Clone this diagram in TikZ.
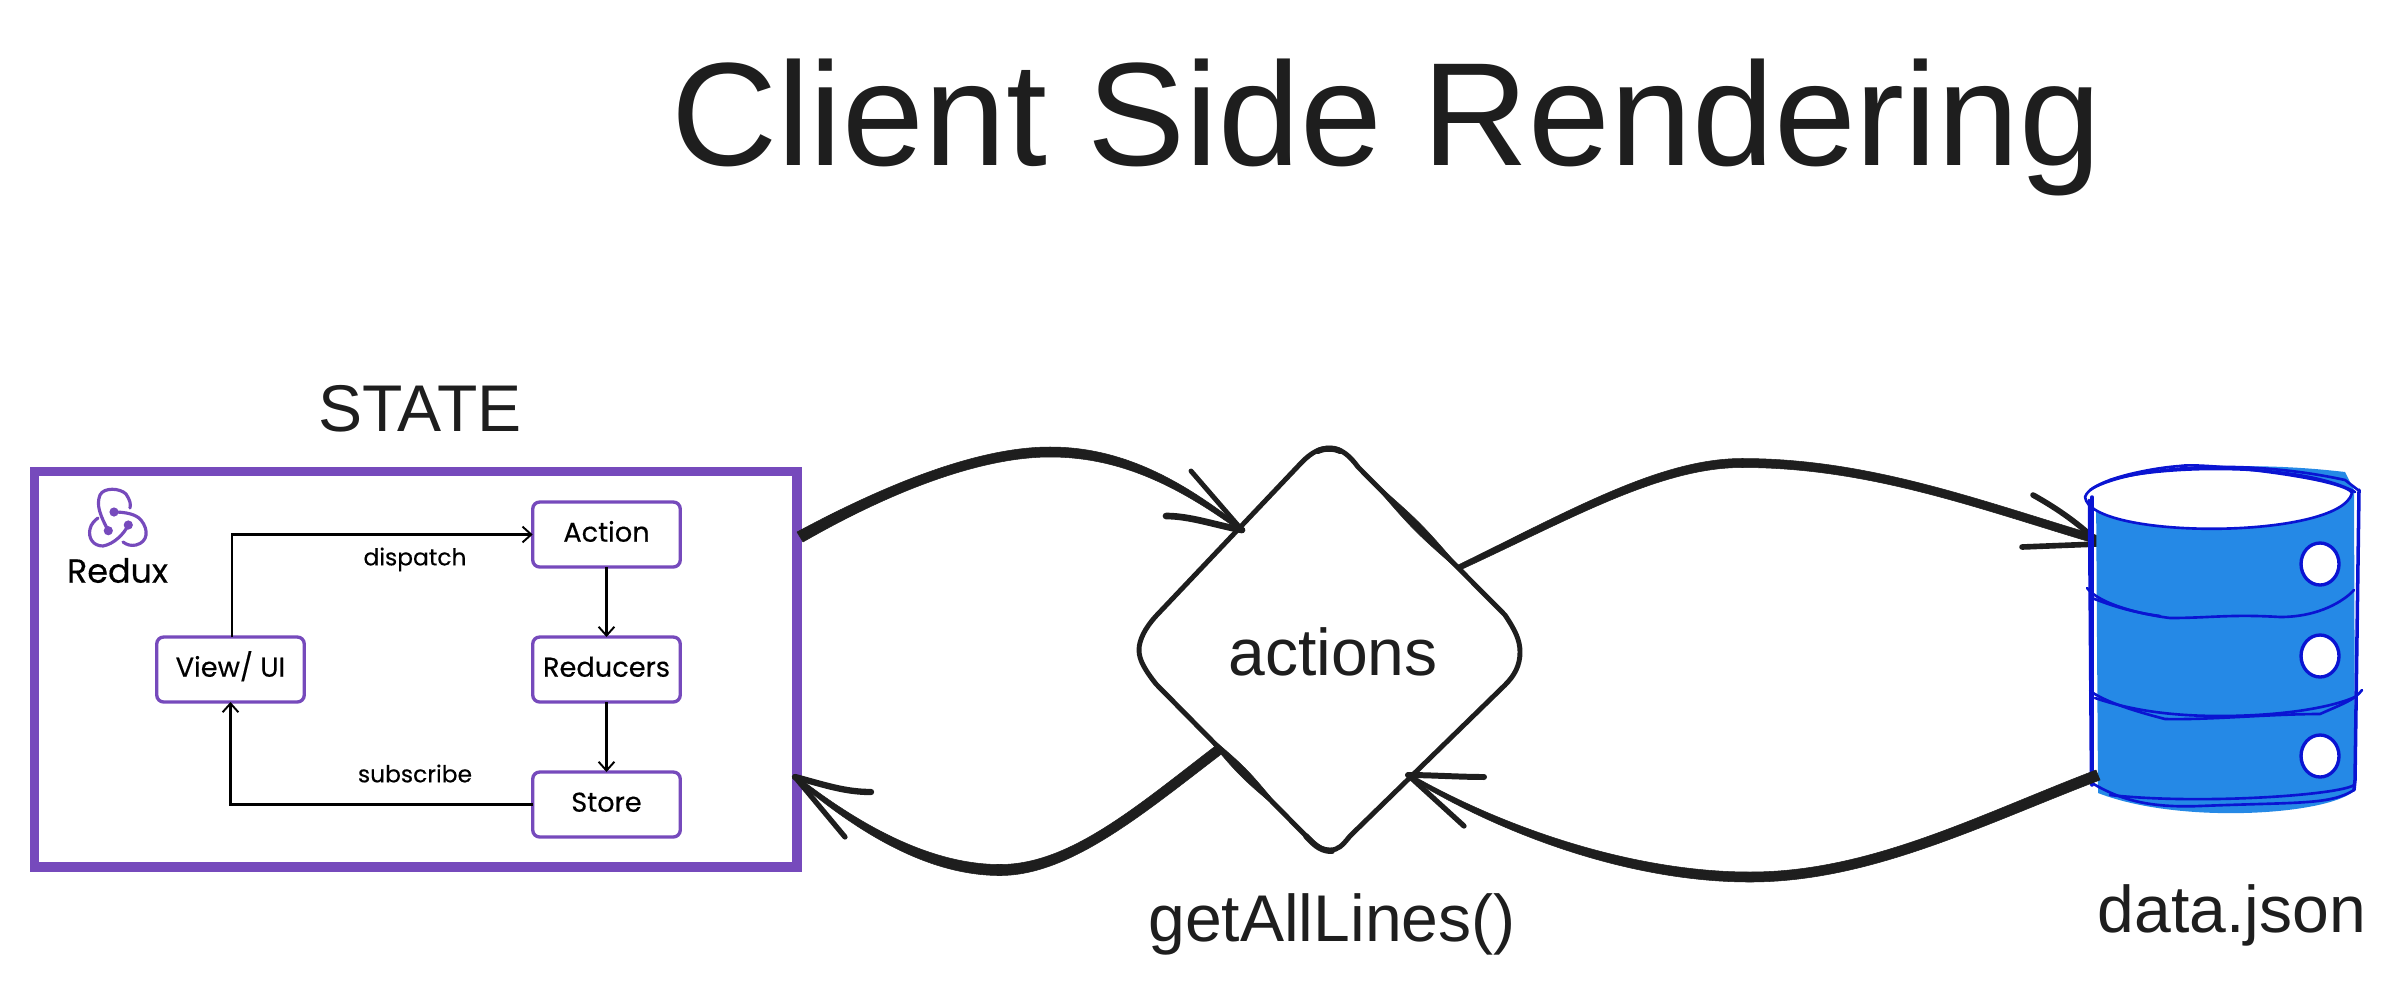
\documentclass[tikz,border=0pt]{standalone}
\usepackage{fontspec}
\setmainfont{Liberation Sans}
\newfontfamily\reduxfont[FakeBold=0.35]{Poppins}
\usetikzlibrary{arrows.meta}
\definecolor{ink}{HTML}{1E1E1E}
\definecolor{rx}{HTML}{764ABC}
\definecolor{dbfill}{HTML}{2589E6}
\definecolor{dbline}{HTML}{0A14D2}
\tikzset{
  every node/.style={inner sep=0pt,outer sep=0pt},
  big/.style={font=\fontsize{37.6}{41}\selectfont,text=ink,anchor=base},
  rxbox/.style={draw=rx,line width=1.9pt,rounded corners=4pt,fill=white,minimum width=84pt,minimum height=37pt,text height=10pt,text depth=1.8pt,font=\reduxfont\fontsize{15.5}{18}\selectfont,text=black},
  rxlab/.style={font=\reduxfont\fontsize{13.3}{15}\selectfont,text=black},
  rxarrow/.style={draw=black,line width=1.3pt,-{Straight Barb[length=5pt,width=9pt,line width=1.1pt]}},
  logo/.style={draw=rx,line width=1.8pt,line cap=round},
  skline/.style={draw=ink,line cap=round,line join=round},
  sktaper/.style={fill=ink,draw=ink,line width=0.3pt,line join=round},
  dbstroke/.style={draw=dbline,line width=1.5pt,line cap=round,line join=round},
}
\begin{document}
\begin{tikzpicture}[x=0.02cm,y=-0.02cm]
\useasboundingbox (0,0) rectangle (2396,981);
% title
\node[font=\fontsize{83.7}{90}\selectfont,text=ink,anchor=base west] (title) at (671,165) {Client Side Rendering};
\node[big] (statelabel) at (420,431) {STATE};
% frame
\draw[draw=rx,line width=5.4pt] (34.5,471.5) rectangle (797,867);
% logo
\fill[rx] (114,512) circle (4.6);
\fill[rx] (108.3,530.7) circle (4.6);
\fill[rx] (128.3,525) circle (4.6);
\draw[logo] (108.3,530.7) .. controls (100,515) and (96,505) .. (100,495) .. controls (104,487) and (120,488) .. (126,494) .. controls (130,500) and (131,504) .. (130,508);
\draw[logo] (114,512) .. controls (125,512) and (136,514) .. (141,520) .. controls (149,530) and (148,542) .. (136,545) .. controls (131,546) and (127,545) .. (123,542);
\draw[logo] (128.3,525) .. controls (124,534) and (114,544) .. (103,546) .. controls (93,546) and (88,538) .. (90,529) .. controls (91,524) and (95,520) .. (98,518);
\node[font=\reduxfont\fontsize{19}{20}\selectfont,text=black] (reduxname) at (117.5,570.5) {Redux};
% redux boxes
\node[rxbox] (action) at (606.5,534.5) {Action};
\node[rxbox] (reducers) at (606.5,669.5) {Reducers};
\node[rxbox] (store) at (606.5,804.5) {Store};
\node[rxbox] (view) at (230.5,669.5) {View/ UI};
\draw[rxarrow] (view.north) ++(1.5,0) |- (action.west);
\draw[rxarrow] (action) -- (reducers);
\draw[rxarrow] (reducers) -- (store);
\draw[rxarrow] (store.west) -| (view.south);
\node[rxlab] (dispatch) at (415,559.5) {dispatch};
\node[rxlab] (subscribe) at (415,773.5) {subscribe};
% diamond
\coordinate (dtl) at (1242,530);
\coordinate (dtr) at (1458,568);
\coordinate (dbl) at (1221,748);
\coordinate (dbr) at (1408,775);
\draw[skline,line width=2.8pt,fill=white]
  (1330,448) .. controls (1341,448) and (1350,456) .. (1358,467)
  -- (1505,615) .. controls (1515,630) and (1520,640) .. (1520,652)
  .. controls (1520,665) and (1515,675) .. (1505,685)
  -- (1350,836) .. controls (1342,846) and (1338,850) .. (1330,850)
  .. controls (1322,850) and (1316,846) .. (1308,838)
  -- (1156,684) .. controls (1145,670) and (1139,660) .. (1139,650)
  .. controls (1139,640) and (1145,628) .. (1156,616)
  -- (1302,462) .. controls (1312,452) and (1320,448) .. (1330,448) -- cycle;
\fill[sktaper] (1365,474) .. controls (1421.5,523) .. (1470,580) .. controls (1413.5,531) .. cycle;
\fill[sktaper] (1200,728.6) .. controls (1246.5,767.6) .. (1285,814.7) .. controls (1238.5,775.6) .. cycle;
\draw[skline,line width=3.4pt] (1306,836) .. controls (1316,847) and (1322,851) .. (1332,851);
\draw[skline,line width=3.4pt] (1318,451) .. controls (1324,448) and (1334,448) .. (1340,451);
\node[big] (actions) at (1333,675) {actions};
% connectors
\fill[sktaper] (797,532) .. controls (890,482) and (980,447) .. (1050,447) .. controls (1120,447) and (1180,478) .. (1244,529)
  -- (1240,531) .. controls (1178,486) and (1120,457) .. (1050,457) .. controls (980,457) and (890,492) .. (803,542) -- cycle;
\draw[skline,line width=2.8pt] (dtl) -- (1191,471);
\draw[skline,line width=3.8pt] (dtl) .. controls (1215,525) and (1190,516) .. (1166,516);
\fill[sktaper] (1457,565.5) .. controls (1569,511) and (1660,458.5) .. (1742,458.5) .. controls (1870,458.5) and (1981,501) .. (2099,536)
  -- (2097,544) .. controls (1979,509) and (1870,467.5) .. (1742,467.5) .. controls (1660,467.5) and (1571,519) .. (1459,570.5) -- cycle;
\draw[skline,line width=3.2pt] (2098,542) .. controls (2080,525) and (2060,510) .. (2033,495);
\draw[skline,line width=3.2pt] (2098,544) -- (2022,547);
\fill[sktaper] (1218,744) .. controls (1137,806) and (1070,864.5) .. (1000,864.5) .. controls (932,864.5) and (862,827) .. (796,775.5)
  -- (794,778.5) .. controls (858,833) and (928,875.5) .. (1000,875.5) .. controls (1070,875.5) and (1143,814) .. (1224,752) -- cycle;
\draw[skline,line width=3pt] (795,777) -- (845,837);
\draw[skline,line width=3.6pt] (795,777) .. controls (825,785) and (845,792) .. (871,792);
% database
\fill[dbfill] (2096,490) .. controls (2100,480) and (2200,455) .. (2345,472) -- (2354,490) -- (2355,790) .. controls (2330,815) and (2180,825) .. (2098,793) -- cycle;
\draw[dbstroke,fill=white] (2085,497) .. controls (2090,540) and (2340,540) .. (2352,493) .. controls (2345,478) and (2200,462) .. (2180,466) .. controls (2150,468) and (2090,480) .. (2085,497) -- cycle;
\draw[dbstroke] (2090,490) .. controls (2120,470) and (2230,455) .. (2345,480) -- (2358,490);
\draw[dbstroke] (2110,480) .. controls (2160,465) and (2300,462) .. (2355,492);
\draw[dbstroke,line width=2pt] (2092,497) -- (2092,785);
\draw[dbstroke] (2089,500) -- (2091,780);
\draw[dbstroke,line width=2pt] (2359,490) -- (2355,780) -- (2354,790);
\draw[dbstroke] (2354,790) .. controls (2330,805) and (2300,802) .. (2200,806) .. controls (2150,808) and (2120,800) .. (2092,783);
\draw[dbstroke] (2354,785) .. controls (2340,795) and (2200,805) .. (2110,795);
\draw[dbstroke] (2087,588) .. controls (2100,605) and (2145,615) .. (2170,618) .. controls (2210,618) and (2230,614) .. (2280,617) .. controls (2320,617) and (2345,600) .. (2354,590);
\draw[dbstroke] (2092,598) .. controls (2110,605) and (2130,612) .. (2160,616);
\draw[dbstroke] (2090,691) .. controls (2110,705) and (2150,715) .. (2165,719) .. controls (2210,720) and (2270,714) .. (2320,714) .. controls (2340,705) and (2355,700) .. (2362,690);
\draw[dbstroke] (2095,698) .. controls (2130,710) and (2170,716) .. (2220,716) .. controls (2280,716) and (2330,708) .. (2355,697);
\foreach \yy in {564,656,756}{
  \draw[dbstroke,line width=1.9pt,fill=white] (2320,\yy) ellipse (19 and 21);
}
\fill[sktaper] (2096,770) .. controls (1978,815) and (1870,872) .. (1750,872) .. controls (1632,872) and (1502,827) .. (1409,773.5)
  -- (1407,776.5) .. controls (1498,833) and (1628,882) .. (1750,882) .. controls (1870,882) and (1982,825) .. (2100,780) -- cycle;
\draw[skline,line width=3pt] (dbr) -- (1464,826);
\draw[skline,line width=3.4pt] (dbr) .. controls (1430,775) and (1460,777) .. (1484,777);
\node[big] (getlines) at (1332,941) {getAllLines()};
\node[big] (datajson) at (2232,932) {data.json};
\end{tikzpicture}
\end{document}
